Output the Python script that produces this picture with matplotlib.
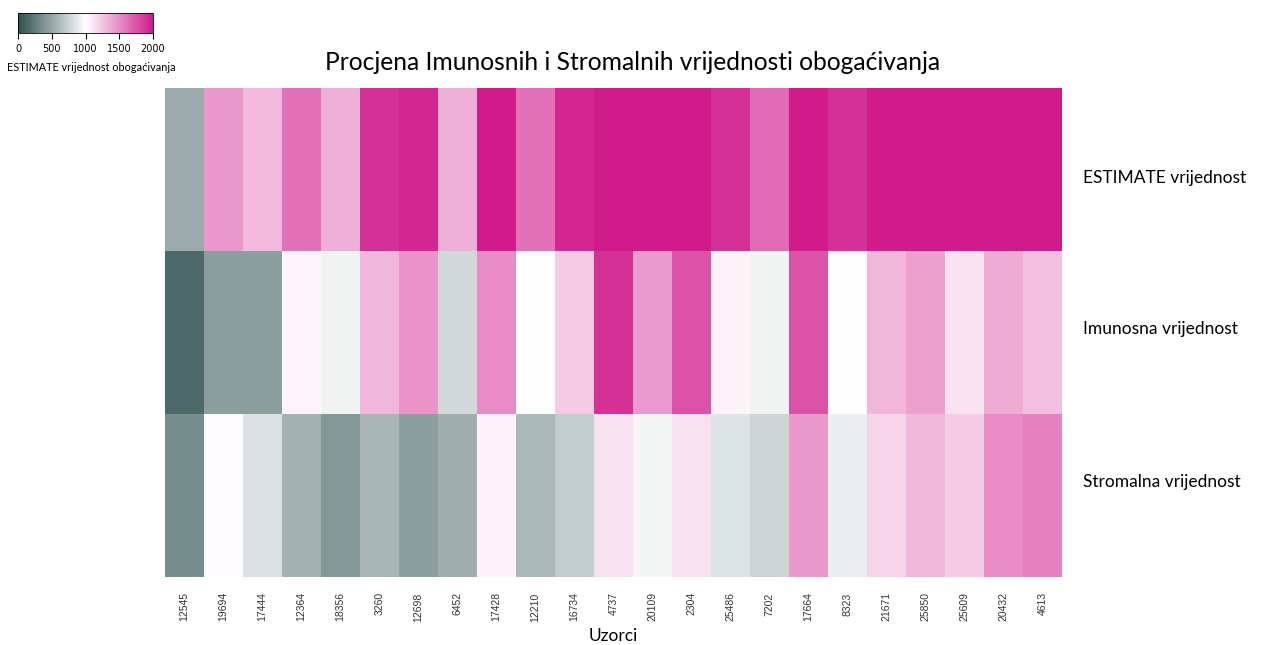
import numpy as np
from matplotlib import pyplot as plt
from matplotlib.colors import LinearSegmentedColormap, Normalize
from matplotlib.cm import ScalarMappable

SAMPLES = ['12545', '19694', '17444', '12364', '18356', '3260', '12698',
           '6452', '17428', '12210', '16734', '4737', '20109', '2304',
           '25486', '7202', '17664', '8323', '21671', '25850', '25609',
           '20432', '4613']
ROW_LABELS = ['ESTIMATE vrijednost', 'Imunosna vrijednost',
              'Stromalna vrijednost']

ESTIMATE_SCORE = [530, 1450, 1300, 1620, 1350, 1900, 1950, 1350, 2000, 1620,
                  1950, 2000, 2000, 2000, 1900, 1650, 2000, 1900, 2000, 2000,
                  2000, 2000, 2000]
IMMUNE_SCORE = [150, 450, 450, 1040, 930, 1320, 1470, 780, 1500, 1005, 1230,
                1900, 1440, 1750, 1050, 930, 1750, 990, 1320, 1420, 1120,
                1360, 1280]
STROMAL_SCORE = [350, 1010, 830, 560, 420, 580, 450, 540, 1050, 600, 720,
                 1130, 950, 1130, 840, 760, 1450, 900, 1180, 1310, 1230,
                 1500, 1560]

VMIN, VMAX = 0, 2000

cmap = LinearSegmentedColormap.from_list(
    'estimate', ['#2f4f4f', '#ffffff', '#d01c8b'])
norm = Normalize(vmin=VMIN, vmax=VMAX)

data = np.array([ESTIMATE_SCORE, IMMUNE_SCORE, STROMAL_SCORE], dtype=float)

W, H = 1287, 645
fig = plt.figure(figsize=(W / 100, H / 100), dpi=100)

# main heatmap
ax = fig.add_axes([165 / W, 1 - 577 / H, (1062 - 165) / W, (577 - 88) / H])
ax.pcolormesh(data, cmap=cmap, norm=norm)
ax.set_xlim(0, len(SAMPLES))
ax.set_ylim(len(ROW_LABELS), 0)
for spine in ax.spines.values():
    spine.set_visible(False)
ax.set_xticks(np.arange(len(SAMPLES)) + 0.5)
ax.set_xticklabels(SAMPLES, rotation=90, fontsize=7.5,
                   family='Liberation Sans', color='#333333')
ax.tick_params(axis='x', length=0, pad=11)
# row labels sit a little off the row centres in the original
ax.set_yticks(np.arange(len(ROW_LABELS)) + [0.54, 0.47, 0.41])
ax.set_yticklabels(ROW_LABELS, fontsize=12.5, family='Lato')
ax.yaxis.tick_right()
ax.tick_params(axis='y', length=0, pad=15)
ax.set_xlabel('Uzorci', fontsize=12.5, family='Lato', labelpad=5)
fig.text(633 / W, 1 - 63 / H, 'Procjena Imunosnih i Stromalnih vrijednosti '
         'obogaćivanja', ha='center', va='center', fontsize=17.7,
         family='Lato')

# colour key in the top-left corner
cax = fig.add_axes([18 / W, 1 - 33 / H, (153 - 18) / W, 20 / H])
cb = fig.colorbar(ScalarMappable(norm=norm, cmap=cmap), cax=cax,
                  orientation='horizontal', ticks=[0, 500, 1000, 1500, 2000])
cb.outline.set_linewidth(0.6)
cax.tick_params(labelsize=7, length=4, width=0.8, pad=4)
cax.set_xlabel('ESTIMATE vrijednost obogaćivanja', fontsize=7.8,
               family='Lato', labelpad=6)
cax.xaxis.label.set_x(0.54)

fig.savefig('out.png', dpi=100)
